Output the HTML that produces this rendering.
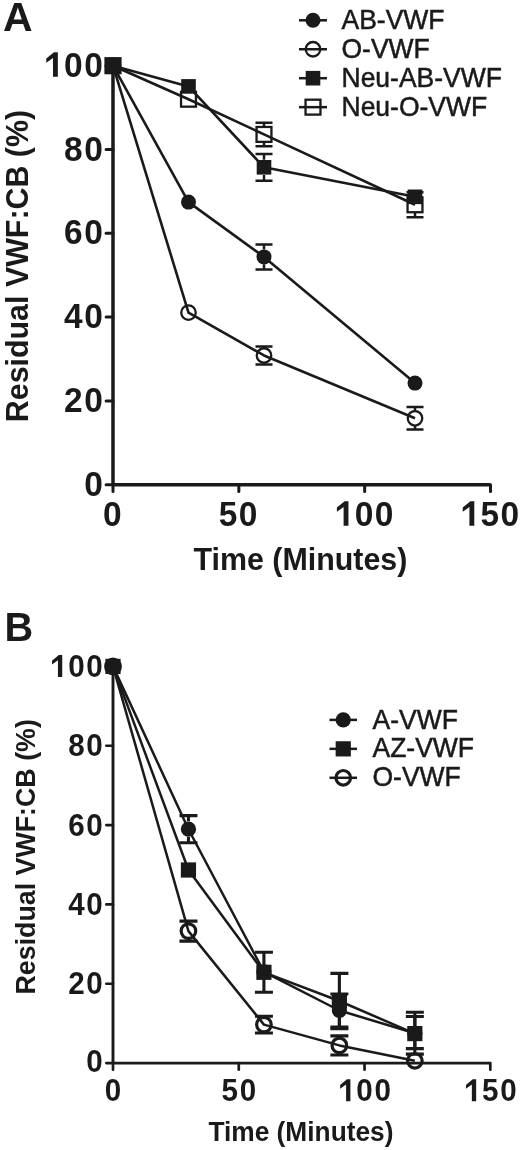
<!DOCTYPE html>
<html><head><meta charset="utf-8"><style>
html,body{margin:0;padding:0;background:#fff;width:520px;height:1150px;overflow:hidden}
svg{display:block;will-change:transform}
text{font-family:"Liberation Sans", sans-serif}
</style></head><body>
<svg width="520" height="1150" viewBox="0 0 520 1150" font-family='"Liberation Sans", sans-serif' fill="#1a1a1a">
<path d="M113 65.7V484.7H490.5" fill="none" stroke="#1a1a1a" stroke-width="3.5" stroke-linejoin="round"/>
<path d="M106.1 484.7H113" stroke="#1a1a1a" stroke-width="3.0" stroke-linecap="round"/>
<path d="M106.1 400.9H113" stroke="#1a1a1a" stroke-width="3.0" stroke-linecap="round"/>
<path d="M106.1 317.1H113" stroke="#1a1a1a" stroke-width="3.0" stroke-linecap="round"/>
<path d="M106.1 233.3H113" stroke="#1a1a1a" stroke-width="3.0" stroke-linecap="round"/>
<path d="M106.1 149.5H113" stroke="#1a1a1a" stroke-width="3.0" stroke-linecap="round"/>
<path d="M106.1 65.7H113" stroke="#1a1a1a" stroke-width="3.0" stroke-linecap="round"/>
<path d="M113 484.7V491.6" stroke="#1a1a1a" stroke-width="3.0" stroke-linecap="round"/>
<path d="M238.83 484.7V491.6" stroke="#1a1a1a" stroke-width="3.0" stroke-linecap="round"/>
<path d="M364.67 484.7V491.6" stroke="#1a1a1a" stroke-width="3.0" stroke-linecap="round"/>
<path d="M490.5 484.7V491.6" stroke="#1a1a1a" stroke-width="3.0" stroke-linecap="round"/>
<g transform="translate(0 495.8) scale(1 1.045)"><text x="84.14" y="0" font-size="33.5" font-weight="bold">0</text></g>
<g transform="translate(0 412) scale(1 1.045)"><text x="64.04" y="0" font-size="33.5" font-weight="bold">2</text><text x="84.14" y="0" font-size="33.5" font-weight="bold">0</text></g>
<g transform="translate(0 328.2) scale(1 1.045)"><text x="64.04" y="0" font-size="33.5" font-weight="bold">4</text><text x="84.14" y="0" font-size="33.5" font-weight="bold">0</text></g>
<g transform="translate(0 244.4) scale(1 1.045)"><text x="64.04" y="0" font-size="33.5" font-weight="bold">6</text><text x="84.14" y="0" font-size="33.5" font-weight="bold">0</text></g>
<g transform="translate(0 160.6) scale(1 1.045)"><text x="64.04" y="0" font-size="33.5" font-weight="bold">8</text><text x="84.14" y="0" font-size="33.5" font-weight="bold">0</text></g>
<g transform="translate(0 76.8) scale(1 1.045)"><path d="M57.85 0L52.99 0L52.99 -17.92L46.29 -13.4L46.29 -17.42L53.99 -23.45L57.85 -23.45Z"/><text x="64.04" y="0" font-size="33.5" font-weight="bold">0</text><text x="84.14" y="0" font-size="33.5" font-weight="bold">0</text></g>
<g transform="translate(0 525.8) scale(1 1.045)"><text x="102.98" y="0" font-size="33.5" font-weight="bold">0</text></g>
<g transform="translate(0 525.8) scale(1 1.045)"><text x="218.77" y="0" font-size="33.5" font-weight="bold">5</text><text x="238.87" y="0" font-size="33.5" font-weight="bold">0</text></g>
<g transform="translate(0 525.8) scale(1 1.045)"><path d="M348.45 0L343.6 0L343.6 -17.92L336.9 -13.4L336.9 -17.42L344.6 -23.45L348.45 -23.45Z"/><text x="354.65" y="0" font-size="33.5" font-weight="bold">0</text><text x="374.75" y="0" font-size="33.5" font-weight="bold">0</text></g>
<g transform="translate(0 525.8) scale(1 1.045)"><path d="M474.29 0L469.43 0L469.43 -17.92L462.73 -13.4L462.73 -17.42L470.43 -23.45L474.29 -23.45Z"/><text x="480.48" y="0" font-size="33.5" font-weight="bold">5</text><text x="500.58" y="0" font-size="33.5" font-weight="bold">0</text></g>
<text transform="translate(193.5 570) scale(1 1.04)" font-size="30.4" font-weight="bold">Time (Minutes)</text>
<text transform="translate(27.5 422.2) rotate(-90) scale(1 1.04)" font-size="30.4" font-weight="bold">Residual VWF:CB (%)</text>
<text transform="translate(3 31)" font-size="41" font-weight="bold">A</text>
<polyline points="113,65.7 188.5,202.08 264,256.89 415,383.09" fill="none" stroke="#1a1a1a" stroke-width="2.6" stroke-linejoin="round"/>
<polyline points="113,65.7 188.5,312.62 264,355.48 415,418.29" fill="none" stroke="#1a1a1a" stroke-width="2.6" stroke-linejoin="round"/>
<polyline points="113,65.7 188.5,99.22 264,134.42 415,204.77" fill="none" stroke="#1a1a1a" stroke-width="2.6" stroke-linejoin="round"/>
<polyline points="113,65.7 188.5,86.4 264,167.31 415,196.81" fill="none" stroke="#1a1a1a" stroke-width="2.6" stroke-linejoin="round"/>
<path d="M264 244.4V249.49M264 264.29V269.38M255.5 244.4H272.5M255.5 269.38H272.5" stroke="#1a1a1a" stroke-width="2.5" fill="none"/>
<path d="M264 346.47V348.08M264 362.88V364.49M255.5 346.47H272.5M255.5 364.49H272.5" stroke="#1a1a1a" stroke-width="2.5" fill="none"/>
<path d="M415 407.1V410.89M415 425.69V429.48M406.5 407.1H423.5M406.5 429.48H423.5" stroke="#1a1a1a" stroke-width="2.5" fill="none"/>
<path d="M264 122.68V126.82M264 142.02V146.15M255.5 122.68H272.5M255.5 146.15H272.5" stroke="#1a1a1a" stroke-width="2.5" fill="none"/>
<path d="M415 192.2V197.17M415 212.37V217.34M406.5 192.2H423.5M406.5 217.34H423.5" stroke="#1a1a1a" stroke-width="2.5" fill="none"/>
<path d="M264 153.98V159.71M264 174.91V180.63M255.5 153.98H272.5M255.5 180.63H272.5" stroke="#1a1a1a" stroke-width="2.5" fill="none"/>
<circle cx="113" cy="65.7" r="7.5" fill="#1a1a1a"/>
<circle cx="188.5" cy="202.08" r="7.5" fill="#1a1a1a"/>
<circle cx="264" cy="256.89" r="7.5" fill="#1a1a1a"/>
<circle cx="415" cy="383.09" r="7.5" fill="#1a1a1a"/>
<circle cx="113" cy="65.7" r="7.25" fill="none" stroke="#1a1a1a" stroke-width="2.3"/>
<circle cx="188.5" cy="312.62" r="7.25" fill="none" stroke="#1a1a1a" stroke-width="2.3"/>
<circle cx="264" cy="355.48" r="7.25" fill="none" stroke="#1a1a1a" stroke-width="2.3"/>
<circle cx="415" cy="418.29" r="7.25" fill="none" stroke="#1a1a1a" stroke-width="2.3"/>
<rect x="105.55" y="58.25" width="14.9" height="14.9" fill="none" stroke="#1a1a1a" stroke-width="2.3"/>
<rect x="181.05" y="91.77" width="14.9" height="14.9" fill="none" stroke="#1a1a1a" stroke-width="2.3"/>
<rect x="256.55" y="126.97" width="14.9" height="14.9" fill="none" stroke="#1a1a1a" stroke-width="2.3"/>
<rect x="407.55" y="197.32" width="14.9" height="14.9" fill="none" stroke="#1a1a1a" stroke-width="2.3"/>
<rect x="105.7" y="58.4" width="14.6" height="14.6" fill="#1a1a1a"/>
<rect x="181.2" y="79.1" width="14.6" height="14.6" fill="#1a1a1a"/>
<rect x="256.7" y="160.01" width="14.6" height="14.6" fill="#1a1a1a"/>
<rect x="407.7" y="189.51" width="14.6" height="14.6" fill="#1a1a1a"/>
<path d="M299 20.3H327" stroke="#1a1a1a" stroke-width="2.5"/>
<circle cx="313" cy="20.3" r="7.5" fill="#1a1a1a"/>
<text transform="translate(341.5 29.2) scale(1 1.07)" font-size="26.5" stroke="#1a1a1a" stroke-width="0.5">AB-VWF</text>
<path d="M299 49.25H327" stroke="#1a1a1a" stroke-width="2.5"/>
<circle cx="313" cy="49.25" r="7.25" fill="none" stroke="#1a1a1a" stroke-width="2.3"/>
<text transform="translate(341.5 58.15) scale(1 1.07)" font-size="26.5" stroke="#1a1a1a" stroke-width="0.5">O-VWF</text>
<path d="M299 78.2H327" stroke="#1a1a1a" stroke-width="2.5"/>
<rect x="305.7" y="70.9" width="14.6" height="14.6" fill="#1a1a1a"/>
<text transform="translate(341.5 87.1) scale(1 1.07)" font-size="26.5" stroke="#1a1a1a" stroke-width="0.5">Neu-AB-VWF</text>
<path d="M299 107.15H327" stroke="#1a1a1a" stroke-width="2.5"/>
<rect x="305.55" y="99.7" width="14.9" height="14.9" fill="none" stroke="#1a1a1a" stroke-width="2.3"/>
<text transform="translate(341.5 116.05) scale(1 1.07)" font-size="26.5" stroke="#1a1a1a" stroke-width="0.5">Neu-O-VWF</text>
<path d="M113 666.4V1063.1H490.3" fill="none" stroke="#1a1a1a" stroke-width="2.9" stroke-linejoin="round"/>
<path d="M106.35 1063.1H113" stroke="#1a1a1a" stroke-width="2.7" stroke-linecap="round"/>
<path d="M106.35 983.76H113" stroke="#1a1a1a" stroke-width="2.7" stroke-linecap="round"/>
<path d="M106.35 904.42H113" stroke="#1a1a1a" stroke-width="2.7" stroke-linecap="round"/>
<path d="M106.35 825.08H113" stroke="#1a1a1a" stroke-width="2.7" stroke-linecap="round"/>
<path d="M106.35 745.74H113" stroke="#1a1a1a" stroke-width="2.7" stroke-linecap="round"/>
<path d="M106.35 666.4H113" stroke="#1a1a1a" stroke-width="2.7" stroke-linecap="round"/>
<path d="M113 1063.1V1069.75" stroke="#1a1a1a" stroke-width="2.7" stroke-linecap="round"/>
<path d="M238.77 1063.1V1069.75" stroke="#1a1a1a" stroke-width="2.7" stroke-linecap="round"/>
<path d="M364.53 1063.1V1069.75" stroke="#1a1a1a" stroke-width="2.7" stroke-linecap="round"/>
<path d="M490.3 1063.1V1069.75" stroke="#1a1a1a" stroke-width="2.7" stroke-linecap="round"/>
<g transform="translate(0 1072.2) scale(1 1.06)"><text x="86.35" y="0" font-size="29.6" font-weight="bold">0</text></g>
<g transform="translate(0 994.36) scale(1 1.06)"><text x="68.15" y="0" font-size="29.6" font-weight="bold">2</text><text x="86.35" y="0" font-size="29.6" font-weight="bold">0</text></g>
<g transform="translate(0 915.02) scale(1 1.06)"><text x="68.15" y="0" font-size="29.6" font-weight="bold">4</text><text x="86.35" y="0" font-size="29.6" font-weight="bold">0</text></g>
<g transform="translate(0 835.68) scale(1 1.06)"><text x="68.15" y="0" font-size="29.6" font-weight="bold">6</text><text x="86.35" y="0" font-size="29.6" font-weight="bold">0</text></g>
<g transform="translate(0 756.34) scale(1 1.06)"><text x="68.15" y="0" font-size="29.6" font-weight="bold">8</text><text x="86.35" y="0" font-size="29.6" font-weight="bold">0</text></g>
<g transform="translate(0 677) scale(1 1.06)"><path d="M62.24 0L57.94 0L57.94 -15.84L52.02 -11.84L52.02 -15.39L58.83 -20.72L62.24 -20.72Z"/><text x="68.15" y="0" font-size="29.6" font-weight="bold">0</text><text x="86.35" y="0" font-size="29.6" font-weight="bold">0</text></g>
<g transform="translate(0 1101.2) scale(1 1.06)"><text x="104.77" y="0" font-size="29.6" font-weight="bold">0</text></g>
<g transform="translate(0 1101.2) scale(1 1.06)"><text x="221.44" y="0" font-size="29.6" font-weight="bold">5</text><text x="239.64" y="0" font-size="29.6" font-weight="bold">0</text></g>
<g transform="translate(0 1101.2) scale(1 1.06)"><path d="M350.39 0L346.09 0L346.09 -15.84L340.17 -11.84L340.17 -15.39L346.98 -20.72L350.39 -20.72Z"/><text x="356.3" y="0" font-size="29.6" font-weight="bold">0</text><text x="374.5" y="0" font-size="29.6" font-weight="bold">0</text></g>
<g transform="translate(0 1101.2) scale(1 1.06)"><path d="M476.15 0L471.86 0L471.86 -15.84L465.94 -11.84L465.94 -15.39L472.75 -20.72L476.15 -20.72Z"/><text x="482.07" y="0" font-size="29.6" font-weight="bold">5</text><text x="500.27" y="0" font-size="29.6" font-weight="bold">0</text></g>
<text transform="translate(208.4 1141.2) scale(1 1.04)" font-size="26.3" font-weight="bold">Time (Minutes)</text>
<text transform="translate(34.8 994.5) rotate(-90) scale(1 1.04)" font-size="26.8" font-weight="bold">Residual VWF:CB (%)</text>
<text transform="translate(4.6 641)" font-size="41" font-weight="bold" textLength="28.7" lengthAdjust="spacingAndGlyphs">B</text>
<polyline points="113,666.4 188.46,931.12 263.92,1024.62 339.38,1045.41 414.84,1060.8" fill="none" stroke="#1a1a1a" stroke-width="2.5" stroke-linejoin="round"/>
<polyline points="113,666.4 188.46,829.21 263.92,971.86 339.38,1010.5 414.84,1033.19" fill="none" stroke="#1a1a1a" stroke-width="2.5" stroke-linejoin="round"/>
<polyline points="113,666.4 188.46,869.99 263.92,972.3 339.38,1001.02 414.84,1033.59" fill="none" stroke="#1a1a1a" stroke-width="2.5" stroke-linejoin="round"/>
<path d="M188.46 921.12V923.22M188.46 939.02V941.11M179.46 921.12H197.46M179.46 941.11H197.46" stroke="#1a1a1a" stroke-width="3.1" fill="none"/>
<path d="M263.92 1016.21V1016.72M263.92 1032.52V1033.03M254.92 1016.21H272.92M254.92 1033.03H272.92" stroke="#1a1a1a" stroke-width="3.1" fill="none"/>
<path d="M339.38 1035.89V1037.51M339.38 1053.31V1054.93M330.38 1035.89H348.38M330.38 1054.93H348.38" stroke="#1a1a1a" stroke-width="3.1" fill="none"/>
<path d="M188.46 815.6V821.31M188.46 837.11V842.81M179.46 815.6H197.46M179.46 842.81H197.46" stroke="#1a1a1a" stroke-width="3.1" fill="none"/>
<path d="M339.38 993.99V1002.6M339.38 1018.4V1027M330.38 993.99H348.38M330.38 1027H348.38" stroke="#1a1a1a" stroke-width="3.1" fill="none"/>
<path d="M414.84 1012.2V1025.29M414.84 1041.09V1054.17M405.84 1012.2H423.84M405.84 1054.17H423.84" stroke="#1a1a1a" stroke-width="3.1" fill="none"/>
<path d="M263.92 952.3V965.05M263.92 979.55V992.29M254.92 952.3H272.92M254.92 992.29H272.92" stroke="#1a1a1a" stroke-width="3.1" fill="none"/>
<path d="M339.38 973.33V993.77M339.38 1008.27V1028.71M330.38 973.33H348.38M330.38 1028.71H348.38" stroke="#1a1a1a" stroke-width="3.1" fill="none"/>
<path d="M414.84 1016.49V1026.34M414.84 1040.84V1048.58M405.84 1016.49H423.84M405.84 1048.58H423.84" stroke="#1a1a1a" stroke-width="3.1" fill="none"/>
<circle cx="113" cy="666.4" r="7.3" fill="none" stroke="#1a1a1a" stroke-width="3.2"/>
<circle cx="188.46" cy="931.12" r="7.3" fill="none" stroke="#1a1a1a" stroke-width="3.2"/>
<circle cx="263.92" cy="1024.62" r="7.3" fill="none" stroke="#1a1a1a" stroke-width="3.2"/>
<circle cx="339.38" cy="1045.41" r="7.3" fill="none" stroke="#1a1a1a" stroke-width="3.2"/>
<circle cx="414.84" cy="1060.8" r="7.3" fill="none" stroke="#1a1a1a" stroke-width="3.2"/>
<circle cx="113" cy="666.4" r="7.6" fill="#1a1a1a"/>
<circle cx="188.46" cy="829.21" r="7.6" fill="#1a1a1a"/>
<circle cx="263.92" cy="971.86" r="7.6" fill="#1a1a1a"/>
<circle cx="339.38" cy="1010.5" r="7.6" fill="#1a1a1a"/>
<circle cx="414.84" cy="1033.19" r="7.6" fill="#1a1a1a"/>
<rect x="105.4" y="658.8" width="15.2" height="15.2" fill="#1a1a1a"/>
<rect x="180.86" y="862.39" width="15.2" height="15.2" fill="#1a1a1a"/>
<rect x="256.32" y="964.7" width="15.2" height="15.2" fill="#1a1a1a"/>
<rect x="331.78" y="993.42" width="15.2" height="15.2" fill="#1a1a1a"/>
<rect x="407.24" y="1025.99" width="15.2" height="15.2" fill="#1a1a1a"/>
<path d="M329.5 719.9H357" stroke="#1a1a1a" stroke-width="2.5"/>
<circle cx="343.25" cy="719.9" r="7.6" fill="#1a1a1a"/>
<text transform="translate(372.5 728.5) scale(1 1.07)" font-size="26.5" stroke="#1a1a1a" stroke-width="0.5">A-VWF</text>
<path d="M329.5 748.85H357" stroke="#1a1a1a" stroke-width="2.5"/>
<rect x="335.65" y="741.25" width="15.2" height="15.2" fill="#1a1a1a"/>
<text transform="translate(372.5 757.45) scale(1 1.07)" font-size="26.5" stroke="#1a1a1a" stroke-width="0.5">AZ-VWF</text>
<path d="M329.5 777.8H357" stroke="#1a1a1a" stroke-width="2.5"/>
<circle cx="343.25" cy="777.8" r="7.3" fill="none" stroke="#1a1a1a" stroke-width="3.2"/>
<text transform="translate(372.5 786.4) scale(1 1.07)" font-size="26.5" stroke="#1a1a1a" stroke-width="0.5">O-VWF</text>
</svg>
</body></html>
